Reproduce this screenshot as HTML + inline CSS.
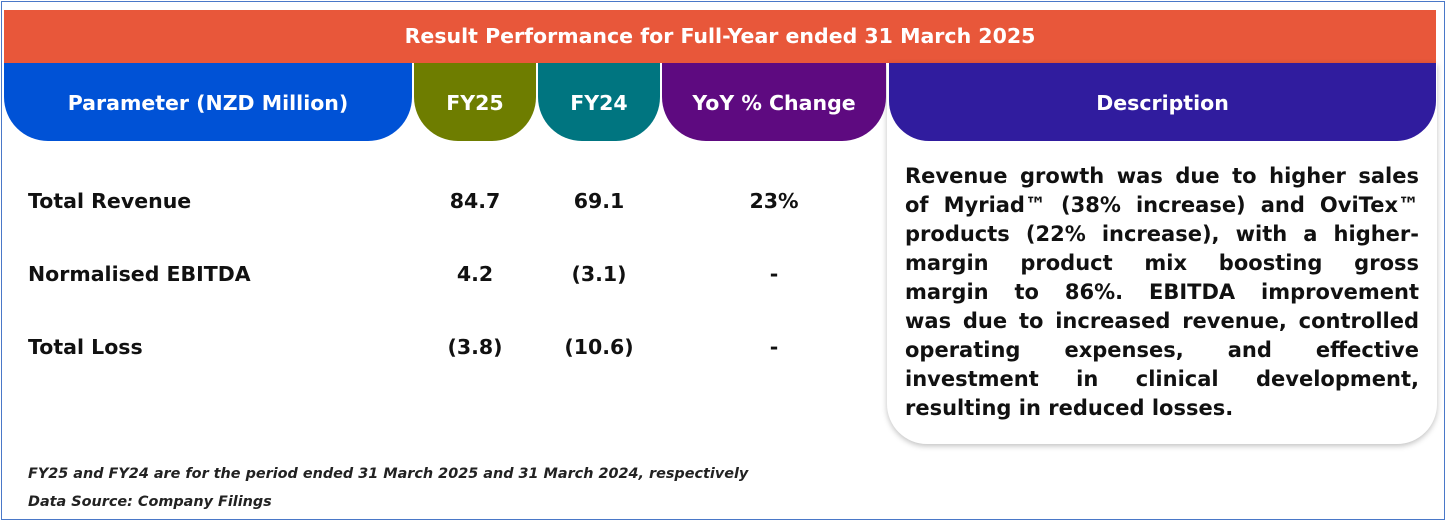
<!DOCTYPE html>
<html><head><meta charset="utf-8"><style>
body{margin:0;width:1448px;height:523px;background:#fff;font-family:"DejaVu Sans","Liberation Sans",sans-serif;position:relative;overflow:hidden}
.frame{position:absolute;left:1px;top:1px;width:1444px;height:519px;border:1px solid #4a78c8;box-sizing:border-box}
.title{position:absolute;left:4px;top:10px;width:1432px;height:53px;background:#e8573a;color:#fff;font-weight:bold;font-size:20.5px;line-height:53px;text-align:center}
.h{position:absolute;top:63px;height:78px;color:#fff;font-weight:bold;font-size:20.5px;line-height:80px;text-align:center;border-radius:0 0 44px 44px}
.card{position:absolute;left:887px;top:63px;width:550px;height:381px;background:#fff;border-radius:0 0 40px 40px;box-shadow:0 2px 6px rgba(0,0,0,.25)}
.desc{position:absolute;left:905px;top:162px;width:514px;font-weight:bold;font-size:21px;line-height:29px;color:#111}
.desc div{text-align:justify;text-align-last:justify;white-space:nowrap}
.desc div.last{text-align-last:left}
.r{position:absolute;font-weight:bold;font-size:20.5px;color:#111}
.c{text-align:center}
.foot{position:absolute;left:28px;font-weight:bold;font-style:italic;font-size:14.4px;color:#222}
</style></head><body>
<div class="frame"></div>
<div class="title">Result Performance for Full-Year ended 31 March 2025</div>
<div class="card"></div>
<div class="h" style="left:4px;width:408px;background:#0052d6">Parameter (NZD Million)</div>
<div class="h" style="left:414px;width:122px;background:#6e7d00">FY25</div>
<div class="h" style="left:538px;width:122px;background:#007580">FY24</div>
<div class="h" style="left:662px;width:224px;background:#5e0a80">YoY % Change</div>
<div class="h" style="left:889px;width:547px;background:#301c9e;border-radius:0 0 40px 40px">Description</div>

<div class="r" style="left:28px;top:189px">Total Revenue</div>
<div class="r c" style="left:414px;width:122px;top:189px">84.7</div>
<div class="r c" style="left:538px;width:122px;top:189px">69.1</div>
<div class="r c" style="left:662px;width:224px;top:189px">23%</div>

<div class="r" style="left:28px;top:262px">Normalised EBITDA</div>
<div class="r c" style="left:414px;width:122px;top:262px">4.2</div>
<div class="r c" style="left:538px;width:122px;top:262px">(3.1)</div>
<div class="r c" style="left:662px;width:224px;top:262px">-</div>

<div class="r" style="left:28px;top:335px">Total Loss</div>
<div class="r c" style="left:414px;width:122px;top:335px">(3.8)</div>
<div class="r c" style="left:538px;width:122px;top:335px">(10.6)</div>
<div class="r c" style="left:662px;width:224px;top:335px">-</div>

<div class="desc">
<div>Revenue growth was due to higher sales</div>
<div>of Myriad™ (38% increase) and OviTex™</div>
<div>products (22% increase), with a higher-</div>
<div>margin product mix boosting gross</div>
<div>margin to 86%. EBITDA improvement</div>
<div>was due to increased revenue, controlled</div>
<div>operating expenses, and effective</div>
<div>investment in clinical development,</div>
<div class="last">resulting in reduced losses.</div>
</div>

<div class="foot" style="top:466px">FY25 and FY24 are for the period ended 31 March 2025 and 31 March 2024, respectively</div>
<div class="foot" style="top:494px">Data Source: Company Filings</div>
</body></html>
